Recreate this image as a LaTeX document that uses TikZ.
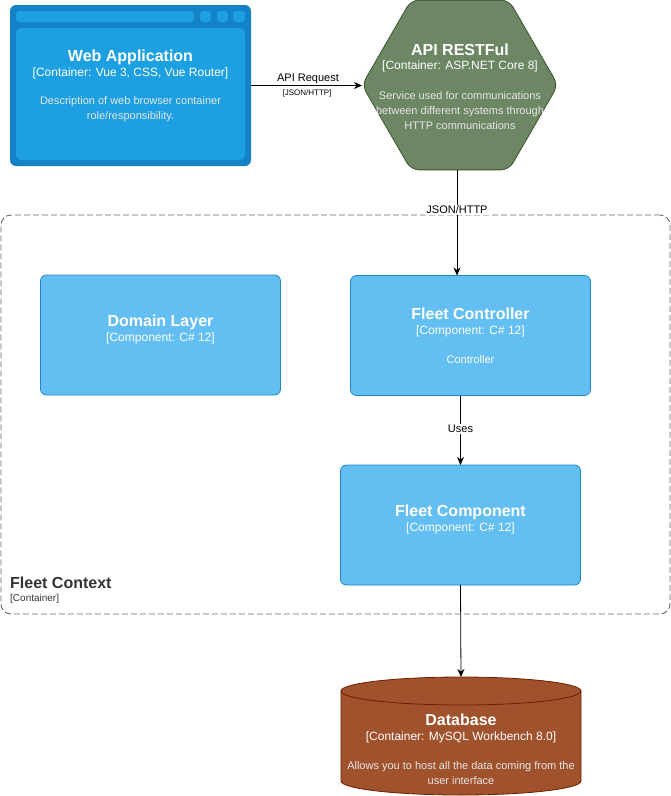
\documentclass[tikz,border=0pt]{standalone}
\usepackage{fontspec}
\setmainfont{Liberation Sans}
\usetikzlibrary{shapes.geometric,arrows.meta,calc}
\definecolor{webouter}{HTML}{1482C6}
\definecolor{webinner}{HTML}{1DA0E1}
\definecolor{apifill}{HTML}{6D8764}
\definecolor{apistroke}{HTML}{3A5431}
\definecolor{compfill}{HTML}{63BEF2}
\definecolor{compstroke}{HTML}{2086C9}
\definecolor{dbfill}{HTML}{A0522D}
\definecolor{dbstroke}{HTML}{6D1F00}
\definecolor{desc}{HTML}{E6E6E6}
\definecolor{bnd}{HTML}{666666}
\definecolor{bndtext}{HTML}{333333}
\begin{document}
\begin{tikzpicture}[x=1pt,y=-1pt,
  ttl/.style={text=white,font=\fontsize{16}{19}\selectfont\bfseries,inner sep=0},
  subt/.style={text=white,font=\fontsize{12}{14}\selectfont,inner sep=0},
  dsc/.style={text=desc,font=\fontsize{11}{15}\selectfont,inner sep=0,align=center},
  compbox/.style={draw=compstroke,fill=compfill,rounded corners=6pt,minimum width=240pt,minimum height=120pt,inner sep=0,outer sep=0,line width=0.8pt},
  arr/.style={line width=0.8pt,-{Stealth[length=8pt,width=7pt,inset=2.5pt]}},
  lbl/.style={fill=white,inner sep=1pt,font=\fontsize{11}{13}\selectfont},
  lblsm/.style={inner sep=0,font=\fontsize{8}{10}\selectfont}]
\useasboundingbox (0,0) rectangle (671,796);

% Fleet Context boundary
\node[draw=bnd,line width=0.9pt,dash pattern=on 6pt off 3pt,rounded corners=10pt,
      minimum width=669pt,minimum height=399pt,inner sep=0] (ctx) at (335.5,414.5) {};
\node[anchor=west,inner sep=0,text=bndtext,font=\fontsize{16}{19}\selectfont\bfseries] (ctxT) at (10,583) {Fleet Context};
\node[anchor=west,inner sep=0,text=bndtext,font=\fontsize{10}{12}\selectfont] (ctxS) at (10,599) {[Container]};

% Web Application
\node[fill=webouter,rounded corners=6pt,minimum width=241pt,minimum height=161pt,inner sep=0,outer sep=0] (web) at (130.5,85.5) {};
\fill[webinner,rounded corners=3pt] (16,11) rectangle (194,22);
\fill[webinner,rounded corners=3pt] (200,11) rectangle (211,22);
\fill[webinner,rounded corners=3pt] (217,11) rectangle (228,22);
\fill[webinner,rounded corners=3pt] (233,11) rectangle (245,22);
\fill[webinner,rounded corners=5pt] (16,28) rectangle (245,160);
\node[ttl] (webT) at (130.5,57) {Web Application};
\node[subt] (webS) at (130.5,73) {[Container: Vue 3, CSS, Vue Router]};
\node[dsc] (webD) at (130.5,109.5) {Description of web browser container\\role/responsibility.};

% API RESTFul
\node[regular polygon,regular polygon sides=6,minimum size=196pt,draw=apistroke,fill=apifill,
      rounded corners=8pt,inner sep=0,outer sep=0,line width=0.8pt] (api) at (460,85) {};
\node[ttl] (apiT) at (460,50) {API RESTFul};
\node[subt] (apiS) at (460,66) {[Container: ASP.NET Core 8]};
\node[dsc] (apiD) at (460,111) {Service used for communications\\between different systems through\\HTTP communications};

% Components
\node[compbox] (domain) at (160.5,335) {};
\node[ttl] (domT) at (160.5,322) {Domain Layer};
\node[subt] (domS) at (160.5,338) {[Component: C\# 12]};

\node[compbox] (ctrl) at (470.5,335.5) {};
\node[ttl] (ctrlT) at (470.5,314) {Fleet Controller};
\node[subt] (ctrlS) at (470.5,331) {[Component: C\# 12]};
\node[dsc,text=white] (ctrlD) at (470.5,360) {Controller};

\node[compbox] (comp) at (460.5,525) {};
\node[ttl] (compT) at (460.5,512) {Fleet Component};
\node[subt] (compS) at (460.5,528) {[Component: C\# 12]};

% Database
\node[minimum width=240pt,minimum height=118pt,inner sep=0,outer sep=0] (db) at (461,736) {};
\path[fill=dbfill,draw=dbstroke,line width=0.8pt] (341,691) -- (341,781)
   arc[start angle=180,end angle=0,x radius=120,y radius=14] -- (581,691)
   arc[start angle=0,end angle=-180,x radius=120,y radius=14] -- cycle;
\draw[dbstroke,line width=0.8pt] (341,691) arc[start angle=180,end angle=0,x radius=120,y radius=14];
\node[ttl] (dbT) at (461,720) {Database};
\node[subt] (dbS) at (461,737) {[Container: MySQL Workbench 8.0]};
\node[dsc] (dbD) at (461,773.5) {Allows you to host all the data coming from the\\user interface};

% Connectors
\draw[arr] (web.east) -- (web.east -| api.west);
\node[lbl] (lblApi) at (308,79) {API Request};
\node[lblsm] (lblApiS) at (307,93) {[JSON/HTTP]};

\draw[arr] ([xshift=-3pt]api.south) -- ([xshift=-3pt]api.south |- ctrl.north);
\node[lbl] (lblJson) at (457,210) {JSON/HTTP};

\draw[arr] (comp.north |- ctrl.south) -- (comp.north);
\node[lbl] (lblUses) at (460.5,429) {Uses};

\draw[arr] (comp.south) -- (db.north);
\end{tikzpicture}
\end{document}
